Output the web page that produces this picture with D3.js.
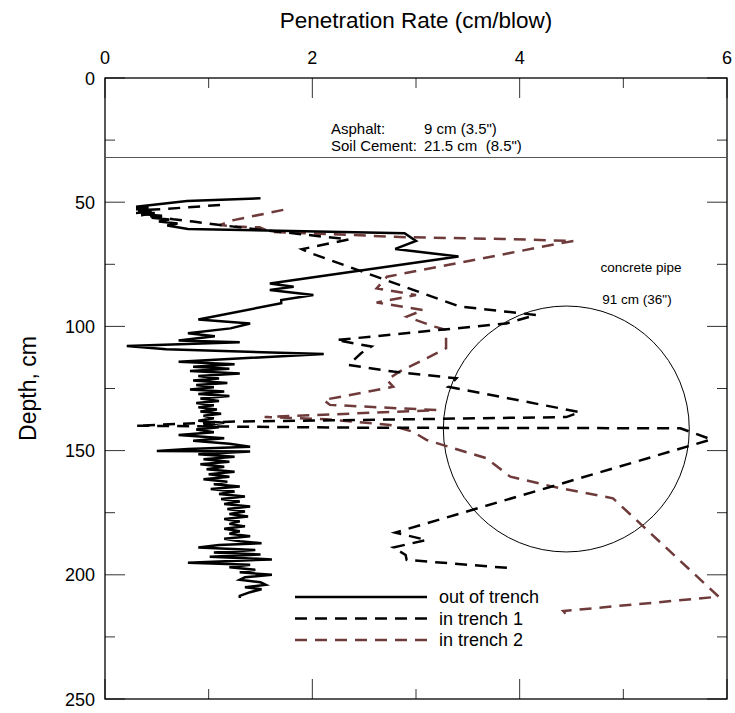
<!DOCTYPE html>
<html>
<head>
<meta charset="UTF-8">
<style>
  body { margin: 0; background: #fff; }
  text { font-family: "Liberation Sans", Arial, sans-serif; white-space: pre; }
</style>
<script src="https://d3js.org/d3.v7.min.js"></script>
</head>
<body>
<svg id="chart" width="735" height="713"></svg>
<script>
// tick labels
var xTicks = [0, 2, 4, 6];
var yTicks = [0, 50, 100, 150, 200, 250];

// out of trench (solid)
var outDepth = [48.4, 49.5, 51.8, 52.3, 52.8, 53.3, 53.8, 54.3, 54.8, 55.5, 56.3, 57.0, 57.8, 58.6, 59.4, 60.8,
  62.5, 65.6, 68.8, 71.9, 82.7, 84.0, 85.3, 87.4, 89.4, 90.7, 97.2, 98.8, 100.8, 102.8, 104.0, 105.7, 106.4,
  107.9, 109.2, 111.1, 114.2, 115.2, 116.2, 117.0, 118.0, 119.0, 120.0, 121.0, 121.8, 122.8, 123.6, 124.5,
  125.4, 126.2, 127.2, 128.0, 129.0, 130.0, 130.8, 131.7, 132.6, 133.5, 134.3, 135.2, 136.0, 137.0, 138.0,
  138.8, 139.8, 140.6, 141.5, 142.6, 143.7, 145.0, 146.0, 147.2, 148.4, 149.4, 150.2, 150.4, 151.5, 152.5,
  153.5, 154.5, 155.5, 156.5, 157.5, 158.5, 159.5, 160.5, 161.5, 162.5, 163.5, 164.5, 165.5, 166.5, 167.5,
  168.5, 169.5, 170.5, 171.5, 172.5, 173.5, 174.5, 175.5, 176.5, 177.5, 178.5, 179.5, 180.5, 181.5, 182.5,
  183.5, 184.5, 185.5, 186.5, 187.3, 188.0, 189.0, 190.0, 191.0, 191.8, 192.7, 193.8, 195.1, 196.0, 197.0,
  198.0, 199.0, 200.0, 201.0, 202.0, 203.0, 204.0, 205.0, 205.8, 207.0, 208.5, 209.3];
var outRate = [1.50, 0.79, 0.30, 0.42, 0.30, 0.45, 0.32, 0.48, 0.35, 0.55, 0.45, 0.62, 0.52, 0.70, 0.60, 0.80,
  2.89, 3.00, 2.80, 3.41, 1.59, 1.82, 1.59, 2.01, 1.70, 1.70, 0.90, 1.40, 1.21, 0.80, 1.06, 0.71, 1.30,
  0.21, 0.59, 2.11, 0.71, 1.25, 0.85, 1.20, 0.82, 1.30, 0.90, 1.10, 0.85, 1.18, 0.88, 1.05,
  0.82, 1.15, 0.90, 1.20, 0.92, 1.10, 0.88, 1.05, 0.90, 1.08, 0.92, 1.12, 0.95, 1.05, 0.90,
  1.15, 0.95, 1.10, 0.88, 1.05, 0.71, 1.15, 0.85, 1.20, 1.40, 0.80, 0.50, 1.40, 0.90, 1.25,
  0.95, 1.20, 0.92, 1.15, 0.98, 1.25, 1.00, 1.20, 0.95, 1.18, 1.05, 1.30, 1.02, 1.25, 1.10,
  1.35, 1.12, 1.30, 1.15, 1.40, 1.18, 1.35, 1.20, 1.38, 1.15, 1.30, 1.20, 1.35, 1.15, 1.30,
  1.20, 1.40, 1.15, 1.30, 1.51, 1.10, 0.90, 1.45, 1.05, 1.50, 1.01, 1.61, 0.80, 1.40, 1.20,
  1.45, 1.30, 1.61, 1.35, 1.30, 1.50, 1.55, 1.35, 1.51, 1.40, 1.30, 1.30];

// in trench 1 (black dashed)
var t1Depth = [51.1, 52.7, 53.2, 53.8, 54.3, 54.8, 55.3, 55.9, 56.9, 57.8, 59.2, 61.2, 65.0, 68.9, 70.6,
  92.0, 95.4, 98.8, 105.5, 108.1, 110.8, 115.5, 118.2, 120.9, 124.3, 134.5, 136.5, 137.8, 138.3, 140.0,
  140.8, 141.0, 145.5, 183.0, 186.0, 189.0, 192.0, 194.0, 197.4];
var t1Rate = [1.11, 0.59, 0.32, 0.45, 0.30, 0.42, 0.35, 0.50, 0.66, 0.85, 1.11, 1.53, 2.35, 1.90, 1.99,
  3.42, 4.16, 3.87, 2.23, 2.57, 2.47, 2.35, 2.78, 3.39, 3.31, 4.58, 4.45, 2.20, 1.25, 0.30,
  2.50, 5.55, 5.85, 2.80, 3.10, 2.78, 2.90, 2.91, 3.94];

// in trench 2 (brown dashed)
var t2Depth = [53.1, 57.2, 59.2, 59.8, 60.1, 61.9, 64.1, 64.8, 65.6, 66.8, 80.0, 84.7, 87.4, 90.4, 93.4,
  96.1, 100.1, 101.4, 105.5, 108.8, 113.5, 118.2, 121.6, 124.3, 129.6, 131.6, 133.7, 136.5, 137.4, 139.7,
  142.4, 145.7, 153.1, 160.5, 164.5, 169.2, 208.8, 214.6, 217.5];
var t2Rate = [1.72, 1.24, 1.11, 1.27, 1.49, 1.59, 2.91, 3.84, 4.52, 4.36, 2.72, 2.62, 3.00, 2.62, 3.07,
  2.91, 3.18, 3.29, 3.29, 3.29, 3.07, 2.84, 2.72, 2.78, 2.11, 2.17, 3.20, 1.54, 2.14, 2.75,
  2.97, 3.10, 3.68, 3.91, 4.32, 4.90, 5.92, 4.42, 4.48];

var layerDepth = 32;           // asphalt + soil cement
var pipe = {x: 4.45, depth: 141.3, r: 49.5};

var svg = d3.select("#chart");
var mLeft = 105, mRight = 727, mTop = 78, mBottom = 699;

var x = d3.scaleLinear().domain([0, 6]).range([mLeft, mRight]);
var y = d3.scaleLinear().domain([0, 250]).range([mTop, mBottom]);

function pts(d, r) { return d.map(function(v, i) { return [r[i], v]; }); }

var line = d3.line().x(function(d) { return x(d[0]); }).y(function(d) { return y(d[1]); });

// ticks inside the box
var tickCol = "#333";
d3.range(0, 6.01, 1).forEach(function(v) {
  var len = v % 2 == 0 ? 20 : 10;
  svg.append("line").attr("x1", x(v)).attr("x2", x(v)).attr("y1", mTop).attr("y2", mTop + len)
    .attr("stroke", tickCol).attr("stroke-width", 1);
  svg.append("line").attr("x1", x(v)).attr("x2", x(v)).attr("y1", mBottom).attr("y2", mBottom - len)
    .attr("stroke", tickCol).attr("stroke-width", 1);
});
d3.range(0, 251, 25).forEach(function(v) {
  var len = v % 50 == 0 ? 20 : 10;
  svg.append("line").attr("x1", mLeft).attr("x2", mLeft + len).attr("y1", y(v)).attr("y2", y(v))
    .attr("stroke", tickCol).attr("stroke-width", 1);
  svg.append("line").attr("x1", mRight).attr("x2", mRight - len).attr("y1", y(v)).attr("y2", y(v))
    .attr("stroke", tickCol).attr("stroke-width", 1);
});

svg.append("rect").attr("x", mLeft).attr("y", mTop).attr("width", mRight - mLeft).attr("height", mBottom - mTop)
  .attr("fill", "none").attr("stroke", "#000").attr("stroke-width", 1.3);

svg.selectAll(".xl").data(xTicks).enter().append("text")
  .attr("x", function(d) { return x(d); }).attr("y", 64)
  .attr("text-anchor", "middle").attr("font-size", 18).text(function(d) { return d; });
svg.selectAll(".yl").data(yTicks).enter().append("text")
  .attr("x", 95).attr("y", function(d) { return y(d) + 6.5; })
  .attr("text-anchor", "end").attr("font-size", 18).text(function(d) { return d; });

svg.append("text").attr("x", (mLeft + mRight) / 2).attr("y", 28).attr("text-anchor", "middle")
  .attr("font-size", 22.5).text("Penetration Rate (cm/blow)");
svg.append("text").attr("transform", "translate(36," + (mTop + mBottom) / 2 + ") rotate(-90)")
  .attr("text-anchor", "middle").attr("font-size", 23).text("Depth, cm");

// pavement layer
svg.append("line").attr("x1", mLeft).attr("x2", mRight).attr("y1", y(layerDepth)).attr("y2", y(layerDepth))
  .attr("stroke", "#555").attr("stroke-width", 1);
svg.append("text").attr("x", 331).attr("y", 134).attr("font-size", 15).text("Asphalt:");
svg.append("text").attr("x", 424).attr("y", 134).attr("font-size", 15).text("9 cm (3.5\")");
svg.append("text").attr("x", 331).attr("y", 151).attr("font-size", 15).text("Soil Cement:");
svg.append("text").attr("x", 424).attr("y", 151).attr("font-size", 15).text("21.5 cm  (8.5\")");

// pipe
svg.append("circle").attr("cx", x(pipe.x)).attr("cy", y(pipe.depth)).attr("r", y(pipe.r) - y(0))
  .attr("fill", "none").attr("stroke", "#000").attr("stroke-width", 1);
svg.append("text").attr("x", 641).attr("y", 272).attr("text-anchor", "middle").attr("font-size", 13.5).text("concrete pipe");
svg.append("text").attr("x", 637).attr("y", 304).attr("text-anchor", "middle").attr("font-size", 13.5).text("91 cm (36\")");

var brown = "#6e3a3a";
var series = [
  {name: "out of trench", data: pts(outDepth, outRate), color: "#000", dash: null},
  {name: "in trench 1", data: pts(t1Depth, t1Rate), color: "#000", dash: "12,8"},
  {name: "in trench 2", data: pts(t2Depth, t2Rate), color: brown, dash: "12,8"}
];

series.slice().reverse().forEach(function(s) {
  svg.append("path").attr("d", line(s.data)).attr("fill", "none")
    .attr("stroke", s.color).attr("stroke-width", 2.5).attr("stroke-dasharray", s.dash)
    .attr("stroke-linejoin", "miter");
});

// legend
series.forEach(function(s, i) {
  var ly = 597 + i * 21.5;
  svg.append("line").attr("x1", 295).attr("x2", 427).attr("y1", ly).attr("y2", ly)
    .attr("stroke", s.color).attr("stroke-width", 2.5).attr("stroke-dasharray", s.dash);
  svg.append("text").attr("x", 439).attr("y", ly + 6).attr("font-size", 18).text(s.name);
});
</script>
</body>
</html>
